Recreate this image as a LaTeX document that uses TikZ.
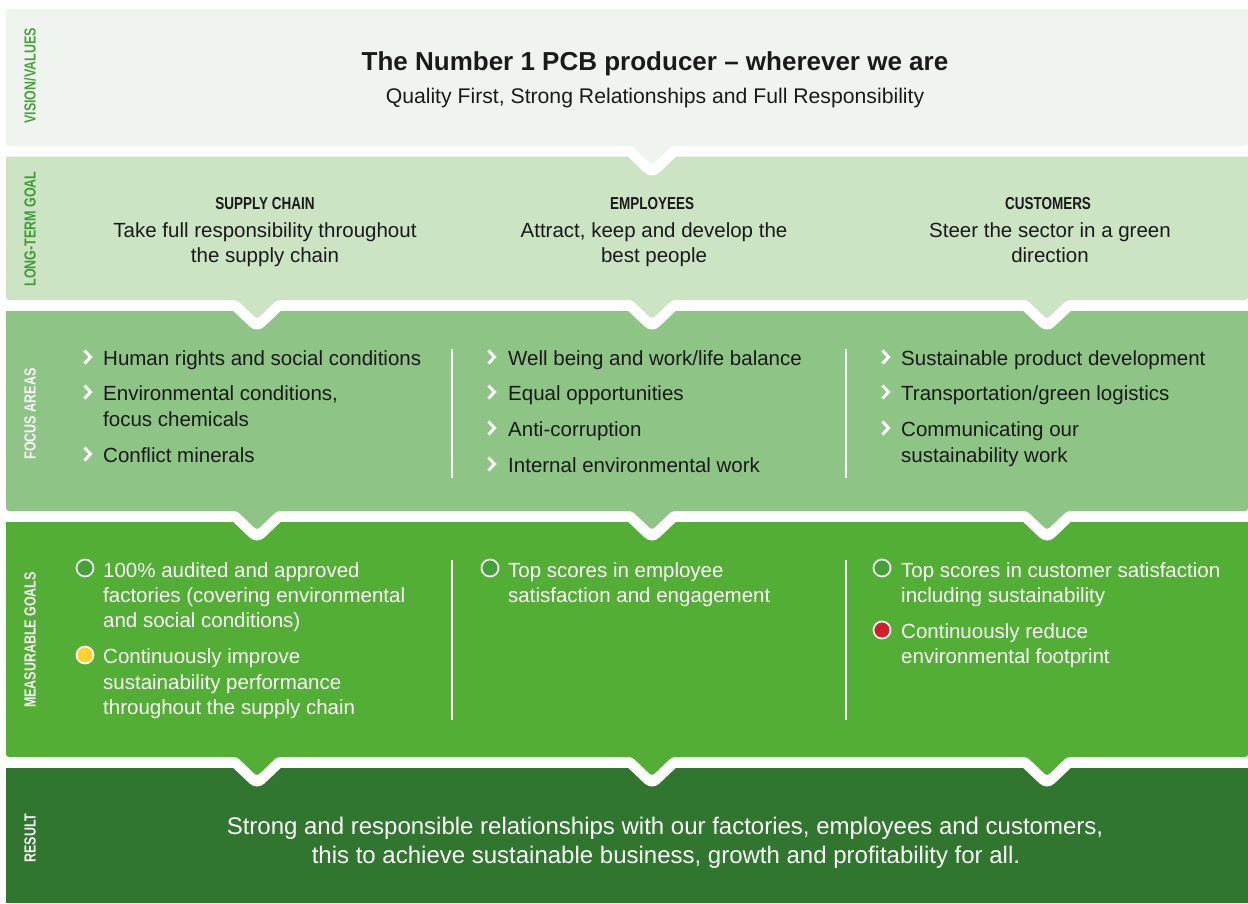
\documentclass[tikz,border=0pt]{standalone}
\usepackage{fontspec}
\setmainfont{Liberation Sans}
\newfontfamily\condfont[FakeStretch=0.78]{Liberation Sans}
\definecolor{cVis}{HTML}{EFF5EE}
\definecolor{cLT}{HTML}{CCE4C4}
\definecolor{cFoc}{HTML}{8EC485}
\definecolor{cMea}{HTML}{52AE34}
\definecolor{cRes}{HTML}{31762E}
\definecolor{cLabVis}{HTML}{4CA040}
\definecolor{cLabLT}{HTML}{3E9A37}
\definecolor{txtdark}{HTML}{1A1A1A}
\definecolor{ringempty}{HTML}{46A03A}
\definecolor{cYel}{HTML}{FDD22B}
\definecolor{cRed}{HTML}{D1202B}
\tikzset{
  body/.style={anchor=base west, inner sep=0pt, font=\fontsize{20.5}{25}\selectfont, text=txtdark},
  bodyw/.style={body, text=white},
  bodyc/.style={body, anchor=base},
  sidelabel/.style={rotate=90, inner sep=0pt, font=\condfont\bfseries\fontsize{16}{16}\selectfont},
  colhead/.style={anchor=base, inner sep=0pt, text=txtdark, font=\condfont\bfseries\fontsize{17.3}{17.3}\selectfont},
  chev/.style={draw=white, line width=3pt},
  ring/.style={draw=white, line width=1.7pt},
  gapline/.style={draw=white, line width=21pt, line join=round},
  divider/.style={draw=white, line width=1.8pt},
  chevbul/.pic={\draw[chev] (-3.5,-6.5) -- (2.5,0) -- (-3.5,6.5);},
}
\begin{document}
\begin{tikzpicture}[x=1pt,y=-1pt]
\useasboundingbox (0,0) rectangle (1248,903);
% ---- bands, bottom to top ----
\fill[cRes] (6,768) rectangle (1248,903);
% measurable
\fill[cMea] (6,522) rectangle (1248,757);
\draw[gapline] (6,757) -- (237,757) -- (257,776) -- (277,757) -- (632,757) -- (652,776) -- (672,757) -- (1027,757) -- (1047,776) -- (1067,757) -- (1248,757);
\fill[cMea, rounded corners=3pt] (6,700) -- (1248,700) -- (1248,757) -- (1067,757) -- (1047,776) -- (1027,757) -- (672,757) -- (652,776) -- (632,757) -- (277,757) -- (257,776) -- (237,757) -- (6,757) -- cycle;
% focus
\fill[cFoc] (6,311) rectangle (1248,511);
\draw[gapline] (6,511) -- (237,511) -- (257,530) -- (277,511) -- (632,511) -- (652,530) -- (672,511) -- (1027,511) -- (1047,530) -- (1067,511) -- (1248,511);
\fill[cFoc, rounded corners=3pt] (6,480) -- (1248,480) -- (1248,511) -- (1067,511) -- (1047,530) -- (1027,511) -- (672,511) -- (652,530) -- (632,511) -- (277,511) -- (257,530) -- (237,511) -- (6,511) -- cycle;
% long-term
\fill[cLT] (6,156) rectangle (1248,300);
\draw[gapline] (6,300) -- (237,300) -- (257,319) -- (277,300) -- (632,300) -- (652,319) -- (672,300) -- (1027,300) -- (1047,319) -- (1067,300) -- (1248,300);
\fill[cLT, rounded corners=3pt] (6,270) -- (1248,270) -- (1248,300) -- (1067,300) -- (1047,319) -- (1027,300) -- (672,300) -- (652,319) -- (632,300) -- (277,300) -- (257,319) -- (237,300) -- (6,300) -- cycle;
% vision
\fill[cVis] (6,9) rectangle (1248,146);
\draw[gapline] (6,146) -- (632,146) -- (652,165) -- (672,146) -- (1248,146);
\fill[cVis, rounded corners=3pt] (6,120) -- (1248,120) -- (1248,146) -- (672,146) -- (652,165) -- (632,146) -- (6,146) -- cycle;

% ---- side labels ----
\node[sidelabel, text=cLabVis] (lvis) at (30,76) {VISION/VALUES};
\node[sidelabel, text=cLabLT] (llt) at (30,229) {LONG-TERM GOAL};
\node[sidelabel, text=white] (lfoc) at (30,414) {FOCUS AREAS};
\node[sidelabel, text=white] (lmea) at (30,640) {MEASURABLE GOALS};
\node[sidelabel, text=white] (lres) at (30,838) {RESULT};

% ---- vision ----
\node[anchor=base, inner sep=0pt, text=txtdark, font=\bfseries\fontsize{26}{30}\selectfont] (title) at (655,70) {The Number 1 PCB producer -- wherever we are};
\node[bodyc, font=\fontsize{21.2}{25}\selectfont] (subtitle) at (655,103) {Quality First, Strong Relationships and Full Responsibility};

% ---- long-term goals ----
\node[colhead] (h1) at (265,209) {SUPPLY CHAIN};
\node[colhead] (h2) at (652,209) {EMPLOYEES};
\node[colhead] (h3) at (1048,209) {CUSTOMERS};
\node[bodyc] (g1a) at (265,237) {Take full responsibility throughout};
\node[bodyc] (g1b) at (265,262) {the supply chain};
\node[bodyc] (g2a) at (654,237) {Attract, keep and develop the};
\node[bodyc] (g2b) at (654,262) {best people};
\node[bodyc] (g3a) at (1050,237) {Steer the sector in a green};
\node[bodyc] (g3b) at (1050,262) {direction};

% ---- focus areas ----
\draw[divider] (452,349) -- (452,478);
\draw[divider] (846,349) -- (846,478);
\pic at (88,357) {chevbul};
\pic at (88,392) {chevbul};
\pic at (88,454) {chevbul};
\node[body] (f1a) at (103,365) {Human rights and social conditions};
\node[body] (f1b) at (103,400) {Environmental conditions,};
\node[body] (f1c) at (103,426) {focus chemicals};
\node[body] (f1d) at (103,462) {Conflict minerals};
\pic at (492,357) {chevbul};
\pic at (492,392) {chevbul};
\pic at (492,428) {chevbul};
\pic at (492,464) {chevbul};
\node[body] (f2a) at (508,365) {Well being and work/life balance};
\node[body] (f2b) at (508,400) {Equal opportunities};
\node[body] (f2c) at (508,436) {Anti-corruption};
\node[body] (f2d) at (508,472) {Internal environmental work};
\pic at (886,357) {chevbul};
\pic at (886,392) {chevbul};
\pic at (886,428) {chevbul};
\node[body] (f3a) at (901,365) {Sustainable product development};
\node[body] (f3b) at (901,400) {Transportation/green logistics};
\node[body] (f3c) at (901,436) {Communicating our};
\node[body] (f3d) at (901,462) {sustainability work};

% ---- measurable goals ----
\draw[divider] (452,560) -- (452,720);
\draw[divider] (846,560) -- (846,720);
\draw[ring, fill=ringempty] (85,568) circle[radius=8.5];
\draw[ring, fill=cYel] (85,655) circle[radius=8.5];
\node[bodyw] (m1a) at (103,577) {100\% audited and approved};
\node[bodyw] (m1b) at (103,602) {factories (covering environmental};
\node[bodyw] (m1c) at (103,627) {and social conditions)};
\node[bodyw] (m1d) at (103,663) {Continuously improve};
\node[bodyw] (m1e) at (103,689) {sustainability performance};
\node[bodyw] (m1f) at (103,714) {throughout the supply chain};
\draw[ring, fill=ringempty] (490,568) circle[radius=8.5];
\node[bodyw] (m2a) at (508,577) {Top scores in employee};
\node[bodyw] (m2b) at (508,602) {satisfaction and engagement};
\draw[ring, fill=ringempty] (882,568) circle[radius=8.5];
\draw[ring, fill=cRed] (882,630) circle[radius=8.5];
\node[bodyw] (m3a) at (901,577) {Top scores in customer satisfaction};
\node[bodyw] (m3b) at (901,602) {including sustainability};
\node[bodyw] (m3c) at (901,638) {Continuously reduce};
\node[bodyw] (m3d) at (901,663) {environmental footprint};

% ---- result ----
\node[bodyc, text=white, font=\fontsize{24}{29}\selectfont] (r1) at (665,834) {Strong and responsible relationships with our factories, employees and customers,};
\node[bodyc, text=white, font=\fontsize{24}{29}\selectfont] (r2) at (666,863) {this to achieve sustainable business, growth and profitability for all.};
\end{tikzpicture}
\end{document}
